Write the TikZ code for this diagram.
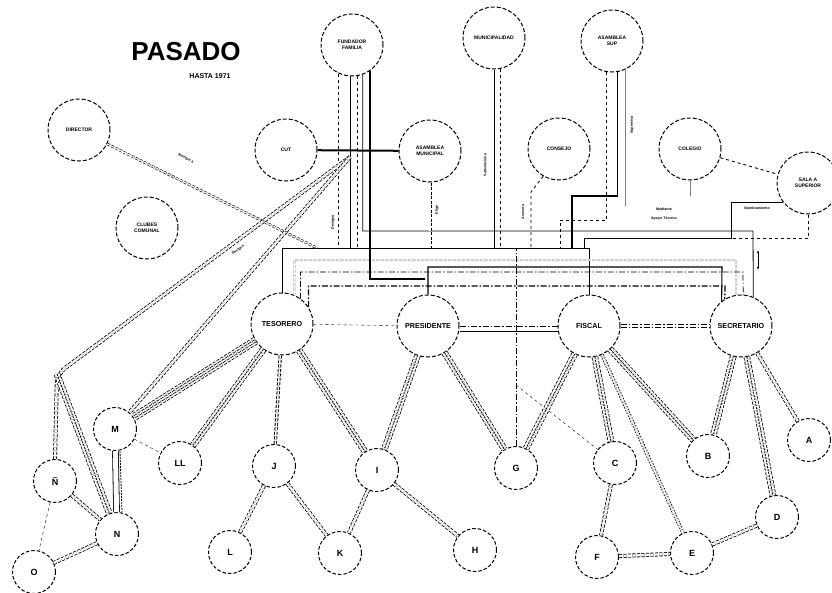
\documentclass[tikz,border=0pt]{standalone}
\usepackage{fontspec}
\setmainfont{Liberation Sans}
\usetikzlibrary{calc,arrows.meta}
\newcommand\tripl[2]{\draw[trip] (#1) -- (#2); \draw[solo] (#1) -- (#2);}
\newcommand\quadl[2]{\draw[dbl, double distance=6.5pt] (#1) -- (#2); \draw[dbl, double distance=1.6pt] (#1) -- (#2);}
\begin{document}
\begin{tikzpicture}[x=1pt,y=-1pt,
  topc/.style={circle, draw, line width=1pt, dash pattern=on 4pt off 2pt, minimum size=62pt, inner sep=0pt, align=center, font=\bfseries\fontsize{5}{6}\selectfont},
  mainc/.style={topc, font=\bfseries\fontsize{7.2}{8}\selectfont},
  letc/.style={circle, draw, line width=1pt, dash pattern=on 3.5pt off 2pt, minimum size=43pt, inner sep=0pt, font=\bfseries\fontsize{9}{9}\selectfont},
  dbl/.style={line width=0.8pt, dash pattern=on 3pt off 1.5pt, double, double distance=2.4pt},
  trip/.style={dbl, double distance=5pt},
  solo/.style={line width=0.8pt, dash pattern=on 2pt off 1pt},
  ddot/.style={dash pattern=on 6pt off 2pt on 1.5pt off 2pt},
  lbl/.style={font=\bfseries\fontsize{3.6}{4}\selectfont, inner sep=0.5pt}]
\useasboundingbox (0,0) rectangle (832,592);

% title
\node[font=\bfseries\fontsize{26}{26}\selectfont] (title) at (186,52) {PASADO};
\node[font=\bfseries\fontsize{7}{7}\selectfont] (sub) at (210,76) {HASTA 1971};

% upper nodes
\node[topc] (fund) at (352,45) {FUNDADOR\\FAMILIA};
\node[topc] (muni) at (494,38) {MUNICIPALIDAD};
\node[topc] (asam) at (612,41) {ASAMBLEA\\SUP};
\node[topc] (dire) at (79,130) {DIRECTOR};
\node[topc] (club) at (147,228) {CLUBES\\COMUNAL};
\node[topc] (cut) at (286,150) {CUT};
\node[topc] (junta) at (430,151) {ASAMBLEA\\MUNICIPAL};
\node[topc] (cons) at (559,149) {CONSEJO};
\node[topc] (cole) at (690,149) {COLEGIO};
\node[topc] (sala) at (808,183) {SALA A\\SUPERIOR};

% main nodes
\node[mainc] (teso) at (282,324) {TESORERO};
\node[mainc] (pres) at (428,326) {PRESIDENTE};
\node[mainc] (fisc) at (589,326) {FISCAL};
\node[mainc] (secr) at (741,326) {SECRETARIO};

% letter nodes
\node[letc] (A) at (809,440) {A};
\node[letc] (B) at (708,456) {B};
\node[letc] (C) at (615,463) {C};
\node[letc] (D) at (777,517) {D};
\node[letc] (E) at (692,553) {E};
\node[letc] (F) at (597,557) {F};
\node[letc] (G) at (516,468) {G};
\node[letc] (H) at (475,550) {H};
\node[letc] (I) at (377,470) {I};
\node[letc] (J) at (274,466) {J};
\node[letc] (K) at (340,553) {K};
\node[letc] (L) at (230,552) {L};
\node[letc] (LL) at (180,463) {LL};
\node[letc] (M) at (115,429) {M};
\node[letc] (N) at (117,534) {N};
\node[letc] (NN) at (55,481) {Ñ};
\node[letc] (O) at (34,572) {O};

% ---- bus lines
\draw[line width=1pt] (teso.north) |- (589,248) -- (fisc.north);
\draw[line width=.8pt] (fund.290) |- (753,231) -- (secr.67);
\draw[dbl, double distance=1.2pt, line width=.4pt, gray] (teso.67) |- (736,260) -- (secr.99);
\draw[line width=1.1pt] (pres.north) |- (722,267) -- (secr.128);
\draw[ddot, line width=.7pt] (teso.54) |- (743,272) -- (secr.86);
\draw[ddot, line width=1.3pt] (teso.33) |- (725,286) -- (secr.121);

\draw[dashed, line width=.8pt] (fund.245) -- (fund.245 |- 0,248);
\draw[line width=1pt] (fund.268) -- (fund.268 |- 0,248);
\draw[dashed, line width=.8pt] (fund.279) -- (fund.279 |- 0,248);
\draw[line width=1.3pt] (fund.305) |- (425,279);

\draw[line width=2pt] (cut) -- (junta);
\draw[dbl, double distance=1.4pt] (junta.south) -- (junta.south |- 0,248);
\draw[line width=.9pt] (muni.south) -- (muni.south |- 0,248);
\draw[dashed, line width=.9pt] (muni.281) -- (muni.281 |- 0,248);
\coordinate (cbend) at (531,192);
\draw[dashed, line width=.8pt] (cons.240) -- (cbend) -- (cbend |- 0,248);
\draw[dashed, line width=.9pt] (asam.260) |- (560,220) -- (560,248);
\draw[line width=1.4pt] (asam.280) |- (572,196) -- (572,248);
\draw[thin, gray] (asam.294) -- (asam.294 |- 0,206);
\draw[thin, gray] (cole.south) -- (cole.south |- 0,196);
\draw[dashed, line width=.9pt] (cole) -- (sala);
\draw[line width=.8pt] (sala.217) -| (731,238) -- (584,238) -- (584,248);
\draw[dashed, line width=.9pt] (sala.south) |- (732,238);
\coordinate (ar1) at (758,250);
\coordinate (ar2) at (758,270);
\draw[line width=.8pt, {Latex[length=3pt]}-{Latex[length=3pt]}] (ar1) -- (ar2);

\draw[ddot, thin] (G.north) -- (G.north |- 0,248);
\coordinate (gc) at (G.north |- 0,385);
\draw[dashed, thin] (gc) -- (C);

% director and long diagonals
\coordinate (dend) at (317,248);
\draw[dbl, double distance=1.3pt, line width=.6pt] (dire) -- (dend);
\coordinate (hub) at (350,157);
\coordinate (corner) at (57,374);
\draw[dbl, rounded corners=10pt] (hub) -- (corner) -- (NN.north);
\draw[dbl] (hub) -- (M);
\tripl{corner}{N}

% main horizontal links
\draw[thin, dashed] (teso) -- (pres);
\draw[ddot, line width=1pt] (pres) -- (fisc);
\draw[thin] ($(pres.east)+(0,5)$) -- ($(fisc.west)+(0,5)$);
\draw[dbl, ddot, double distance=2.5pt] (fisc) -- (secr);

% lower tree
\quadl{teso}{M}
\tripl{teso}{LL}
\draw[dbl, double distance=1.5pt, line width=.9pt] (teso) -- (J);
\tripl{teso}{I}
\tripl{pres}{I}
\tripl{pres}{G}
\tripl{fisc}{G}
\tripl{fisc}{C}
\draw[dbl, dash pattern=on 1.5pt off 1.5pt, double distance=2pt] (fisc) -- (E);
\tripl{fisc}{B}
\tripl{secr}{B}
\tripl{secr}{D}
\draw[dbl] (secr) -- (A);
\draw[trip, solid, line width=.8pt] (M) -- (N);
\draw[solo] ($(M.south)+(5,0)$) -- ($(N.north)+(5,0)$);
\draw[thin, dashed] (M) -- (LL);
\draw[dbl] (NN) -- (N);
\draw[thin, dashed] (NN) -- (O);
\draw[dbl] (N) -- (O);
\draw[dbl] (J) -- (L);
\draw[dbl] (J) -- (K);
\draw[dbl] (I) -- (K);
\draw[dbl] (I) -- (H);
\draw[dbl] (C) -- (F);
\draw[dbl] (F) -- (E);
\draw[dbl] (E) -- (D);

% small labels
\node[lbl, rotate=-27] (l1) at (186,158) {Nombra a};
\node[lbl, rotate=36] (l2) at (238,250) {Designa};
\node[lbl, rotate=90] (l3) at (333,222) {Designa};
\node[lbl, rotate=90] (l4) at (437,210) {Elige};
\node[lbl, rotate=90] (l5) at (485,165) {Subvenciona};
\node[lbl, rotate=90] (l6) at (523,212) {Asesora};
\node[lbl, rotate=90] (l7) at (632,125) {Supervisa};
\node[lbl] (l8) at (664,209) {Mediante};
\node[lbl] (l9) at (664,219) {Apoyo Técnico};
\node[lbl] (l10) at (757,208) {Nombramiento};
\end{tikzpicture}
\end{document}
